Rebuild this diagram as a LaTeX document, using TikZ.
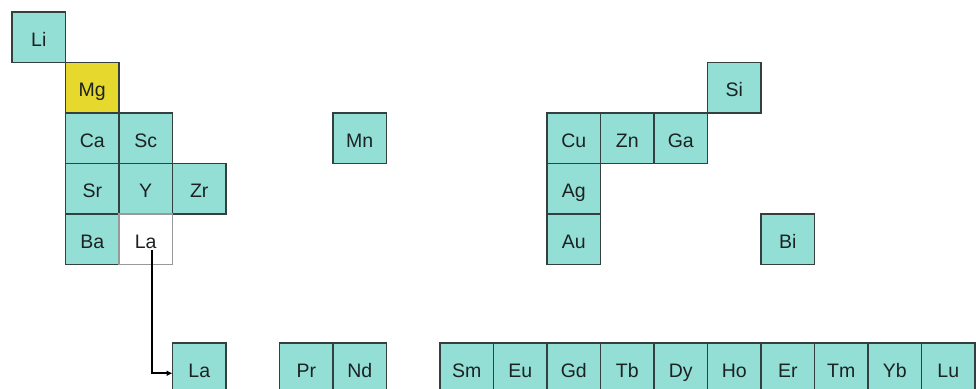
\documentclass[tikz,border=0pt]{standalone}
\usepackage{fontspec}
\setmainfont{Liberation Sans}
\usetikzlibrary{arrows.meta}
\definecolor{teal1}{HTML}{93DFD6}
\definecolor{yel1}{HTML}{E6D82C}
\definecolor{bord}{HTML}{344040}
\definecolor{txt}{HTML}{1C2222}
\tikzset{
  cell/.style={draw=bord, line width=1.3pt, fill=teal1, anchor=north west,
    minimum width=53.5pt, minimum height=50.5pt, inner sep=0pt, outer sep=0pt,
    text height=18pt, text depth=0pt,
    font=\fontsize{19.5}{22}\selectfont, text=txt},
  yelcell/.style={cell, fill=yel1},
  whitecell/.style={cell, fill=white, draw=gray!80},
  lowcell/.style={cell},
  conn/.style={line width=1.8pt, -{Latex[length=6pt,width=6pt]}, draw=black}
}
\newcommand{\cx}[1]{\fpeval{12+53.5*#1}pt}
\newcommand{\ry}[1]{-\fpeval{12+50.5*#1}pt}
\begin{document}
\begin{tikzpicture}[x=1pt,y=1pt]
\useasboundingbox (0,0) rectangle (976,-388);
\clip (0,0) rectangle (976,-388);
% upper block
\node[cell] (Li) at (\cx{0},\ry{0}) {Li};
\node[yelcell] (Mg) at (\cx{1},\ry{1}) {Mg};
\node[cell] (Ca) at (\cx{1},\ry{2}) {Ca};
\node[cell] (Sc) at (\cx{2},\ry{2}) {Sc};
\node[cell] (Sr) at (\cx{1},\ry{3}) {Sr};
\node[cell] (Y) at (\cx{2},\ry{3}) {Y};
\node[cell] (Zr) at (\cx{3},\ry{3}) {Zr};
\node[cell] (Ba) at (\cx{1},\ry{4}) {Ba};
\node[whitecell] (La1) at (\cx{2},\ry{4}) {La};
\node[cell] (Mn) at (\cx{6},\ry{2}) {Mn};
\node[cell] (Si) at (\cx{13},\ry{1}) {Si};
\node[cell] (Cu) at (\cx{10},\ry{2}) {Cu};
\node[cell] (Zn) at (\cx{11},\ry{2}) {Zn};
\node[cell] (Ga) at (\cx{12},\ry{2}) {Ga};
\node[cell] (Ag) at (\cx{10},\ry{3}) {Ag};
\node[cell] (Au) at (\cx{10},\ry{4}) {Au};
\node[cell] (Bi) at (\cx{14},\ry{4}) {Bi};
% lower row
\node[lowcell] (La2) at (\cx{3},-343) {La};
\node[lowcell] (Pr) at (\cx{5},-343) {Pr};
\node[lowcell] (Nd) at (\cx{6},-343) {Nd};
\node[lowcell] (Sm) at (\cx{8},-343) {Sm};
\node[lowcell] (Eu) at (\cx{9},-343) {Eu};
\node[lowcell] (Gd) at (\cx{10},-343) {Gd};
\node[lowcell] (Tb) at (\cx{11},-343) {Tb};
\node[lowcell] (Dy) at (\cx{12},-343) {Dy};
\node[lowcell] (Ho) at (\cx{13},-343) {Ho};
\node[lowcell] (Er) at (\cx{14},-343) {Er};
\node[lowcell] (Tm) at (\cx{15},-343) {Tm};
\node[lowcell] (Yb) at (\cx{16},-343) {Yb};
\node[lowcell] (Lu) at (\cx{17},-343) {Lu};
% connector
\coordinate (s) at ([xshift=6.5pt,yshift=-11pt]La1.center);
\draw[conn] (s) |- ([yshift=-5pt]La2.west);
\end{tikzpicture}
\end{document}
